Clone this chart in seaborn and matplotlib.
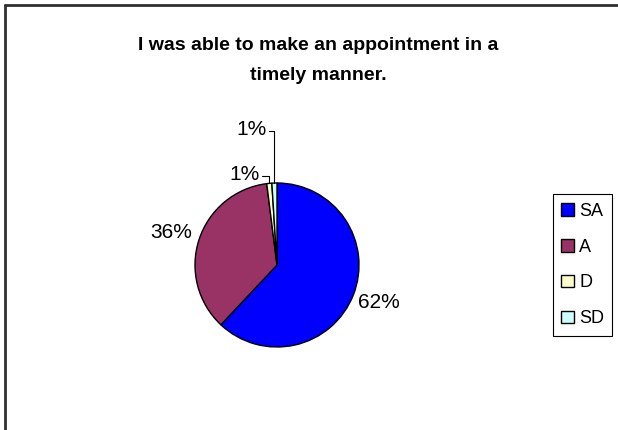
import numpy as np
import matplotlib
matplotlib.use("Agg")
import matplotlib.pyplot as plt
from matplotlib.lines import Line2D
import seaborn as sns

# Datos del gráfico
categorias = ['SA', 'A', 'D', 'SD']
porcentajes = [62, 36, 1, 1]
colores = ['#0000FF', '#993366', '#FFFFCC', '#CCFFFF']
titulo = ["I was able to make an appointment in a", "timely manner."]

sns.set_theme(style='white')
plt.rcParams['font.family'] = ['Liberation Sans', 'DejaVu Sans']
plt.rcParams['text.color'] = 'black'

fig = plt.figure(figsize=(6.18, 4.30), dpi=100)

# pie: center (277,265) px, radius 82 px
W, H = 618, 430
cx, cy, r = 277, 265, 82
ax = fig.add_axes([(cx - r) / W, (H - cy - r) / H, 2 * r / W, 2 * r / H])
wedges, _ = ax.pie(porcentajes, colors=colores, startangle=90, counterclock=False,
                   wedgeprops=dict(edgecolor='black', linewidth=1.0))
ax.set_xlim(-1, 1)
ax.set_ylim(-1, 1)
ax.set_aspect('equal')
ax.axis('off')

# etiquetas
pos_etiquetas = [(1.24, -0.46), (-1.29, 0.40), (-0.21, 1.10), (-0.13, 1.65)]
for i, (w, p) in enumerate(zip(wedges, porcentajes)):
    x, y = pos_etiquetas[i]
    txt = f"{p}%"
    if i < 2:
        ax.text(x, y, txt, ha='center', va='center', fontsize=15, color='black', clip_on=False)
    else:
        ang = np.deg2rad((w.theta1 + w.theta2) / 2)
        px, py = np.cos(ang), np.sin(ang)
        ax.text(x, y, txt, ha='right', va='center', fontsize=15, color='black', clip_on=False)
        ax.plot([x + 0.03, px, px], [y - 0.02, y - 0.02, py], color='black', lw=0.8, clip_on=False)

fig.text(318 / W, 1 - 45 / H, titulo[0], ha='center', va='center',
         fontsize=14, fontweight='bold', color='black')
fig.text(318 / W, 1 - 75 / H, titulo[1], ha='center', va='center',
         fontsize=14, fontweight='bold', color='black')

leg = fig.legend(wedges, categorias, loc='center left',
                 bbox_to_anchor=(553 / W, 1 - 265 / H), fontsize=13,
                 frameon=True, fancybox=False, framealpha=1, edgecolor='black',
                 handlelength=0.7, handleheight=0.7, handletextpad=0.3,
                 labelspacing=1.05, borderpad=0.45, borderaxespad=0)
leg.get_frame().set_linewidth(0.8)
for t in leg.get_texts():
    t.set_color('black')

# marco del gráfico
fig.add_artist(Line2D([5 / W, 5 / W], [0, 1 - 5 / H], color='#303030', lw=2))
fig.add_artist(Line2D([5 / W, 1], [1 - 5 / H, 1 - 5 / H], color='#303030', lw=2))

fig.savefig('out.png', dpi=100)
